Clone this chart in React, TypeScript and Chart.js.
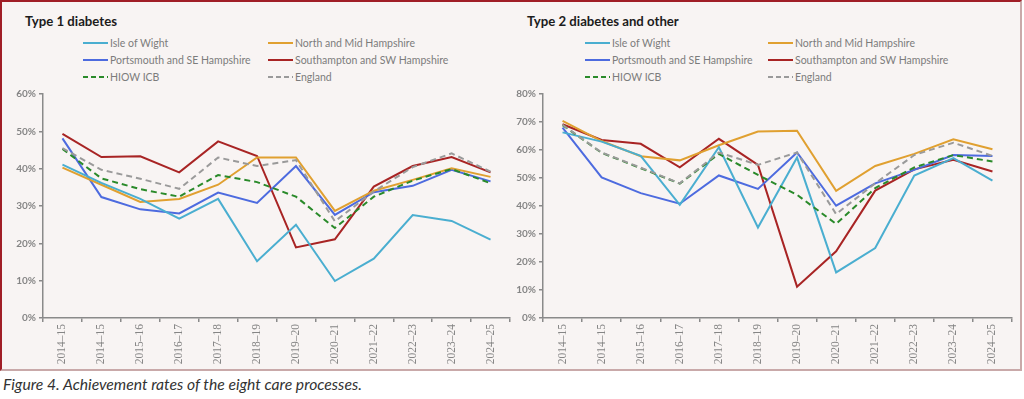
import React, { useEffect, useRef } from 'react';
import { Chart, registerables } from 'chart.js';
Chart.register(...registerables);

const categories = ['2014–15', '2014–15', '2015–16', '2016–17', '2017–18', '2018–19', '2019–20', '2020–21', '2021–22', '2022–23', '2023–24', '2024–25'];

const seriesNames = ['Isle of Wight', 'North and Mid Hampshire', 'Portsmouth and SE Hampshire', 'Southampton and SW Hampshire', 'HIOW ICB', 'England'];
const seriesColors = ['#4aaed0', '#e0a030', '#4d6bdf', '#a82424', '#2a8a2a', '#9a9a9a'];
const seriesDashed = [false, false, false, false, true, true];

// Type 1 diabetes (%)
const t1IoW = [41.1, 36.2, 31.9, 26.6, 31.9, 15.2, 25.0, 9.9, 15.9, 27.6, 26.0, 21.0];
const t1NMH = [40.3, 35.7, 31.1, 31.9, 35.7, 43.0, 43.0, 28.7, 34.1, 37.0, 40.1, 37.8];
const t1PSE = [48.1, 32.4, 29.1, 28.0, 33.6, 30.8, 40.7, 27.6, 33.7, 35.4, 39.7, 36.6];
const t1SSW = [49.3, 43.1, 43.3, 39.0, 47.3, 43.4, 18.9, 21.1, 35.2, 40.7, 43.1, 39.0];
const t1HIOW = [45.3, 37.4, 34.5, 32.5, 38.3, 36.4, 32.5, 24.1, 32.5, 36.8, 39.9, 36.1];
const t1Eng = [45.5, 39.7, 37.3, 34.6, 43.0, 40.7, 42.3, 25.9, 33.9, 40.4, 44.1, 39.2];

// Type 2 diabetes and other (%)
const t2IoW = [66.3, 63.0, 57.9, 40.4, 61.0, 32.3, 57.3, 16.3, 25.0, 50.9, 57.1, 49.1];
const t2NMH = [70.4, 63.2, 57.8, 56.3, 61.7, 66.6, 66.9, 45.4, 54.3, 58.6, 63.8, 60.3];
const t2PSE = [68.0, 50.2, 44.6, 40.8, 50.9, 46.1, 59.1, 40.1, 48.1, 52.9, 58.2, 57.9];
const t2SSW = [69.2, 63.6, 62.2, 53.8, 64.0, 54.7, 11.2, 23.8, 45.5, 53.1, 56.5, 52.3];
const t2HIOW = [68.9, 59.0, 53.5, 48.0, 58.6, 51.1, 44.0, 33.6, 46.4, 53.8, 58.2, 55.9];
const t2Eng = [69.0, 59.1, 53.7, 48.1, 59.1, 54.7, 59.1, 37.1, 48.1, 58.2, 62.6, 57.9];

const t1Max = 60;
const t2Max = 80;
const yStep = 10;

const AXIS = '#8a8a8a';
const LABEL = '#858585';

type PanelProps = {
  title: string;
  values: number[][];
  yMax: number;
  left: number;
  width: number;
  yAxisWidth: number;
  padRight: number;
  legendX: number[];
  titleX: number;
};

function Panel({ title, values, yMax, left, width, yAxisWidth, padRight, legendX, titleX }: PanelProps) {
  const ref = useRef<HTMLCanvasElement>(null);
  useEffect(() => {
    const ctx = ref.current!;
    const datasets = values.map((v, i) => ({
      label: seriesNames[i],
      data: v,
      borderColor: seriesColors[i],
      backgroundColor: seriesColors[i],
      borderWidth: 2,
      borderDash: seriesDashed[i] ? [6, 4] : [],
      pointRadius: 0,
      tension: 0,
      fill: false,
      order: i === 5 ? 0 : i === 4 ? 1 : 2 + i,
    }));
    const chart = new Chart(ctx, {
      type: 'line',
      data: { labels: categories, datasets },
      options: {
        animation: false,
        responsive: false,
        devicePixelRatio: 1,
        layout: { padding: { left: 0, right: padRight, top: 9, bottom: 0 } },
        plugins: { legend: { display: false }, tooltip: { enabled: false } },
        scales: {
          x: {
            offset: true,
            grid: { offset: true, drawOnChartArea: false, tickLength: 4, color: AXIS, tickColor: AXIS, lineWidth: 1.5 },
            border: { color: AXIS, width: 1.5 },
            ticks: {
              autoSkip: false,
              maxRotation: 90,
              minRotation: 90,
              padding: 2,
              color: LABEL,
              font: { family: 'Liberation Serif', size: 11.5 },
            },
            afterFit: (s: any) => { s.height = 52; },
          },
          y: {
            min: 0,
            max: yMax,
            grid: { drawOnChartArea: false, tickLength: 4, color: AXIS, tickColor: AXIS, lineWidth: 1.5 },
            border: { color: AXIS, width: 1.5 },
            ticks: {
              stepSize: yStep,
              padding: 3,
              color: LABEL,
              font: { family: 'Lato', size: 10, weight: 'bold' },
              callback: (v: any) => v + '%',
            },
            afterFit: (s: any) => { s.width = yAxisWidth; },
          },
        },
      },
    });
    return () => chart.destroy();
  }, []);

  const rows = [[0, 1], [2, 3], [4, 5]];
  return (
    <>
      <div style={{ position: 'absolute', left: titleX, top: 13, font: 'bold 13.2px Lato', color: '#1c1c1c' }}>{title}</div>
      {rows.map((r, ri) =>
        r.map((si, ci) => (
          <div key={si} style={{ position: 'absolute', left: legendX[ci], top: 43 + ri * 17 - 8, height: 16, display: 'flex', alignItems: 'center', font: '10.5px Lato', color: '#7c7c7c', whiteSpace: 'nowrap' }}>
            <svg width={25} height={4} style={{ marginRight: 2 }}>
              <line x1={0} y1={2} x2={25} y2={2} stroke={seriesColors[si]} strokeWidth={2} strokeDasharray={seriesDashed[si] ? '5 3' : undefined} />
            </svg>
            {seriesNames[si]}
          </div>
        ))
      )}
      <canvas ref={ref} width={width} height={285} style={{ position: 'absolute', left, top: 85, width, height: 285, display: 'block' }} />
    </>
  );
}

export default function App() {
  return (
    <div style={{ position: 'absolute', left: 0, top: 0, width: 1024, height: 399, background: '#ffffff', overflow: 'hidden' }}>
      <div style={{ position: 'absolute', left: 0, top: 0, width: 1022, height: 371, background: '#f8f4f3', boxSizing: 'border-box', borderLeft: '2px solid #a01e26', borderTop: '2px solid #a01e26', borderRight: '2px solid #c9a9a9', borderBottom: '2px solid #c9a9a9' }} />
      <Panel title="Type 1 diabetes" values={[t1IoW, t1NMH, t1PSE, t1SSW, t1HIOW, t1Eng]} yMax={t1Max} left={0} width={512} yAxisWidth={43} padRight={2} legendX={[83, 268]} titleX={25} />
      <Panel title="Type 2 diabetes and other" values={[t2IoW, t2NMH, t2PSE, t2SSW, t2HIOW, t2Eng]} yMax={t2Max} left={512} width={510} yAxisWidth={31} padRight={10} legendX={[585, 768]} titleX={527} />
      <div style={{ position: 'absolute', left: 3, top: 375, font: 'italic 15.7px Lato', color: '#333' }}>Figure 4. Achievement rates of the eight care processes.</div>
    </div>
  );
}
